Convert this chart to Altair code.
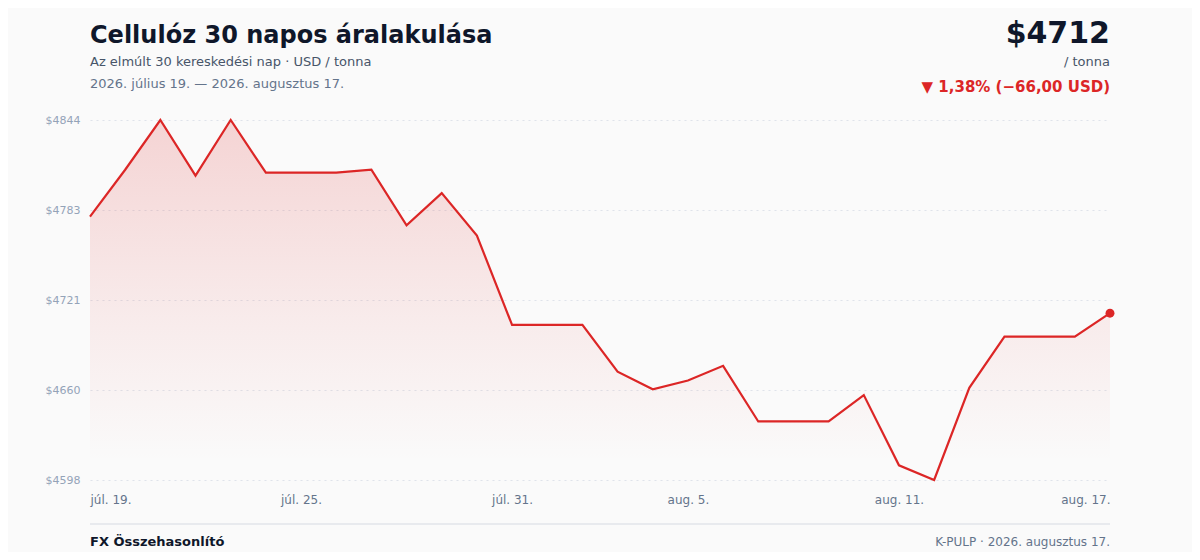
import altair as alt
import pandas as pd

days = ["júl. 19.", "júl. 20.", "júl. 21.", "júl. 22.", "júl. 23.", "júl. 24.", "júl. 25.",
        "júl. 26.", "júl. 27.", "júl. 28.", "júl. 29.", "júl. 30.", "júl. 31.",
        "aug. 1.", "aug. 2.", "aug. 3.", "aug. 4.", "aug. 5.", "aug. 6.", "aug. 7.",
        "aug. 8.", "aug. 9.", "aug. 10.", "aug. 11.", "aug. 12.", "aug. 13.", "aug. 14.",
        "aug. 15.", "aug. 16.", "aug. 17."]
prices = [4778, 4810, 4844, 4806, 4844, 4808, 4808, 4808, 4810, 4772, 4794, 4765,
          4704, 4704, 4704, 4672, 4660, 4666, 4676, 4638, 4638, 4638, 4656, 4608,
          4598, 4661, 4696, 4696, 4696, 4712]
x_ticks = ["júl. 19.", "júl. 25.", "júl. 31.", "aug. 5.", "aug. 11.", "aug. 17."]
y_ticks = [4598, 4659.5, 4721, 4782.5, 4844]

title = "Cellulóz 30 napos áralakulása"
subtitle = "Az elmúlt 30 kereskedési nap · USD / tonna"
date_range = "2026. július 19. — 2026. augusztus 17."
big_price = "$4712"
unit = "/ tonna"
change = "▼ 1,38% (−66,00 USD)"
footer_left = "FX Összehasonlító"
footer_right = "K-PULP · 2026. augusztus 17."

RED = "#dc2626"
FONT = "DejaVu Sans"

df = pd.DataFrame({"d": days, "p": prices})

xenc = alt.X("d:N", sort=days, scale=alt.Scale(type="point", padding=0),
             axis=alt.Axis(values=x_ticks, title=None, labelAngle=0, labelFlush=True,
                           labelFontSize=12, labelColor="#64748b", labelPadding=14,
                           ticks=False, domain=False, grid=False, labelFont=FONT))
yscale = alt.Scale(domain=[min(prices), max(prices)], nice=False, zero=False)
yenc = alt.Y("p:Q", scale=yscale,
             axis=alt.Axis(values=y_ticks, title=None, labelExpr="'$' + round(datum.value)",
                           labelFontSize=11, labelColor="#94a3b8", labelPadding=10,
                           ticks=False, domain=False, grid=True, gridColor="#dfe3ea",
                           gridDash=[2, 4], gridWidth=1, labelFont=FONT))

base = alt.Chart(df)

area = base.mark_area(
    color=alt.Gradient(gradient="linear", x1=1, x2=1, y1=0, y2=1,
                       stops=[alt.GradientStop(color="rgba(220,38,38,0.18)", offset=0),
                              alt.GradientStop(color="rgba(220,38,38,0.07)", offset=0.55),
                              alt.GradientStop(color="rgba(220,38,38,0.0)", offset=0.95)])
).encode(x=xenc, y=yenc, y2=alt.datum(min(prices)))

line = base.mark_line(color=RED, strokeWidth=2.2).encode(x=xenc, y=yenc)

dot = base.mark_point(filled=True, color=RED, size=80, opacity=1).encode(
    x=xenc, y=yenc).transform_filter(alt.datum.d == days[-1])


def txt(s, x, y, size, color, weight="normal", align="left"):
    return alt.Chart(pd.DataFrame({"t": [s]})).mark_text(
        font=FONT, fontSize=size, color=color, fontWeight=weight, align=align,
        baseline="alphabetic").encode(x=alt.value(x), y=alt.value(y), text="t:N")


W, H = 1020, 360
texts = [
    txt(title, 0, -77, 24, "#0f172a", "bold"),
    txt(subtitle, 0, -54, 13, "#475569"),
    txt(date_range, 0, -32, 13, "#64748b"),
    txt(big_price, W, -77, 30, "#0f172a", "bold", "right"),
    txt(unit, W, -54, 13, "#475569", align="right"),
    txt(change, W, -28, 15, RED, "bold", "right"),
    txt(footer_left, 0, 426, 13, "#0f172a", "bold"),
    txt(footer_right, W, 426, 12, "#64748b", align="right"),
]

footer_rule = alt.Chart(pd.DataFrame({"a": [0]})).mark_rule(
    color="#e8eaee", strokeWidth=2).encode(x=alt.value(0), x2=alt.value(W), y=alt.value(404))

chart = alt.layer(area, line, dot, footer_rule, *texts).properties(
    width=W, height=H,
    autosize=alt.AutoSizeParams(type="none"),
    padding={"left": 82, "top": 112, "right": 82, "bottom": 72},
    background="#fafafa",
).configure_view(stroke=None)

chart.save("out.html", embed_options={"renderer": "svg", "actions": False})
